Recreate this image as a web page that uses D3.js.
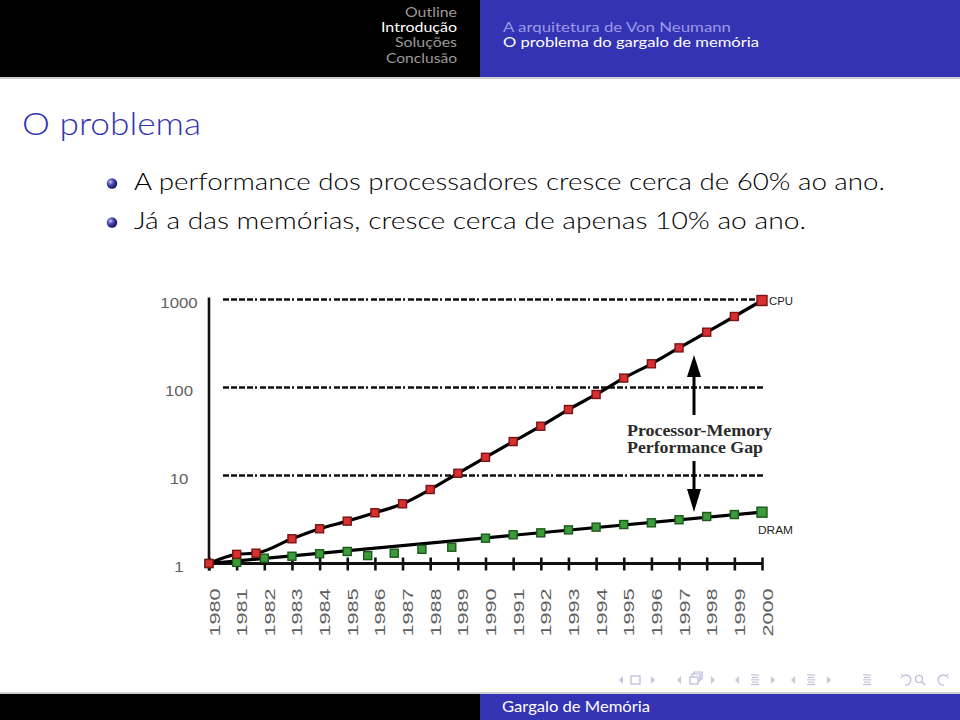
<!DOCTYPE html>
<html>
<head>
<meta charset="utf-8">
<script src="https://cdn.jsdelivr.net/npm/d3@7/dist/d3.min.js"></script>
<style>
  body { margin: 0; background: #fff; }
  svg { display: block; }
</style>
</head>
<body>
<svg id="slide" width="960" height="720"></svg>
<script>
// chart data
var yearLabels = ["1980", "1981", "1982", "1983", "1984", "1985", "1986", "1987", "1988", "1989", "1990",
                  "1991", "1992", "1993", "1994", "1995", "1996", "1997", "1998", "1999", "2000"];
var cpuYears = [1980, 1981, 1981.7, 1983, 1984, 1985, 1986, 1987, 1988, 1989, 1990,
                1991, 1992, 1993, 1994, 1995, 1996, 1997, 1998, 1999, 2000];
var cpuPerf = [1.0, 1.27, 1.31, 1.91, 2.48, 3.03, 3.77, 4.77, 6.93, 10.6, 16.1,
               24.3, 36.3, 56.2, 83.3, 128, 186, 282, 425, 641, 974];
var dramYears = [1980, 1981, 1982, 1983, 1984, 1985, 1985.74, 1986.7, 1987.7, 1988.78, 1990,
                 1991, 1992, 1993, 1994, 1995, 1996, 1997, 1998, 1999, 2000];
var dramPerf = [1.0, 1.03, 1.15, 1.21, 1.29, 1.37, 1.23, 1.31, 1.45, 1.53, 1.94,
                2.12, 2.23, 2.41, 2.59, 2.77, 2.90, 3.14, 3.42, 3.60, 3.83];
var dramTrend = [[1980, 1.0], [2000, 3.83]];
var yTicks = [1, 10, 100, 1000];
var gridValues = [10, 100, 1000];

// slide texts
var navSections = ["Outline", "Introdução", "Soluções", "Conclusão"];
var navSubsections = ["A arquitetura de Von Neumann", "O problema do gargalo de memória"];
var bullets = ["A performance dos processadores cresce cerca de 60% ao ano.",
               "Já a das memórias, cresce cerca de apenas 10% ao ano."];

var blue = "rgb(51,51,179)";
var sans = "Lato, 'Open Sans', sans-serif";
var svg = d3.select("#slide");

// ---------- beamer frame ----------
svg.append("rect").attr("x", 0).attr("y", 0).attr("width", 480).attr("height", 77).attr("fill", "#000");
svg.append("rect").attr("x", 480).attr("y", 0).attr("width", 480).attr("height", 77).attr("fill", blue);
svg.append("rect").attr("x", 0).attr("y", 77).attr("width", 960).attr("height", 2).attr("fill", "#cfcfcf");

var secWidths = [52, 76, 62, 71];
svg.selectAll("text.sec").data(navSections).enter().append("text")
    .attr("class", "sec")
    .attr("x", 457)
    .attr("y", function(d, i) { return 17 + i * 15.2; })
    .attr("text-anchor", "end")
    .attr("textLength", function(d, i) { return secWidths[i]; })
    .attr("lengthAdjust", "spacingAndGlyphs")
    .style("font-family", sans).style("font-size", "14px")
    .attr("fill", function(d, i) { return i === 1 ? "#fff" : "#9a9a9a"; })
    .text(function(d) { return d; });

var subWidths = [228, 256];
svg.selectAll("text.sub").data(navSubsections).enter().append("text")
    .attr("class", "sub")
    .attr("x", 503)
    .attr("y", function(d, i) { return 32.2 + i * 15.2; })
    .attr("textLength", function(d, i) { return subWidths[i]; })
    .attr("lengthAdjust", "spacingAndGlyphs")
    .style("font-family", sans).style("font-size", "14px")
    .attr("fill", function(d, i) { return i === 0 ? "#9a9ae6" : "#fff"; })
    .text(function(d) { return d; });

svg.append("text").attr("x", 22).attr("y", 135)
    .attr("textLength", 179).attr("lengthAdjust", "spacingAndGlyphs")
    .style("font-family", sans).style("font-size", "31px").style("font-weight", 300).attr("fill", blue)
    .text("O problema");

var defs = svg.append("defs");
var grad = defs.append("radialGradient").attr("id", "ball").attr("cx", "35%").attr("cy", "35%").attr("r", "65%");
grad.append("stop").attr("offset", "0%").attr("stop-color", "#c8c8f0");
grad.append("stop").attr("offset", "45%").attr("stop-color", "#4a4ab8");
grad.append("stop").attr("offset", "100%").attr("stop-color", "#15155a");

var bulletWidths = [751, 672];
bullets.forEach(function(b, i) {
    var y = 190 + i * 39;
    svg.append("circle").attr("cx", 112).attr("cy", y - 6.5).attr("r", 5.2).attr("fill", "url(#ball)");
    svg.append("text").attr("x", 134).attr("y", y)
        .attr("textLength", bulletWidths[i]).attr("lengthAdjust", "spacingAndGlyphs")
        .style("font-family", sans).style("font-size", "23px").style("font-weight", 300).attr("fill", "#000")
        .text(b);
});

// footer
svg.append("rect").attr("x", 0).attr("y", 692).attr("width", 960).attr("height", 2).attr("fill", "#cfcfcf");
svg.append("rect").attr("x", 0).attr("y", 694).attr("width", 480).attr("height", 26).attr("fill", "#000");
svg.append("rect").attr("x", 480).attr("y", 694).attr("width", 480).attr("height", 26).attr("fill", blue);
svg.append("text").attr("x", 502).attr("y", 712)
    .attr("textLength", 148).attr("lengthAdjust", "spacingAndGlyphs")
    .style("font-family", sans).style("font-size", "15px").attr("fill", "#fff")
    .text("Gargalo de Memória");

// navigation symbols
var nav = svg.append("g").attr("fill", "none").attr("stroke", "#b8b8d8").attr("stroke-width", 1.2);
function triL(x) { nav.append("path").attr("d", "M" + (x + 2) + ",676 L" + (x - 2) + ",680 L" + (x + 2) + ",684 Z").attr("fill", "#c8c8e0").attr("stroke", "none"); }
function triR(x) { nav.append("path").attr("d", "M" + (x - 2) + ",676 L" + (x + 2) + ",680 L" + (x - 2) + ",684 Z").attr("fill", "#c8c8e0").attr("stroke", "none"); }
function lines(x) {
    [[-4, 4], [-3, 3], [-4, 4], [-3, 3], [-4, 4]].forEach(function(l, k) {
        nav.append("line").attr("x1", x + l[0]).attr("x2", x + l[1]).attr("y1", 675 + k * 2.4).attr("y2", 675 + k * 2.4).attr("stroke-width", 1);
    });
}
triL(621); nav.append("rect").attr("x", 631).attr("y", 676).attr("width", 9).attr("height", 8); triR(653);
triL(679);
nav.append("rect").attr("x", 690).attr("y", 677).attr("width", 8).attr("height", 7);
nav.append("path").attr("d", "M692,677 V674 H700 V681 H698");
nav.append("path").attr("d", "M694,674 V672 H702 V679 H700");
triR(713);
triL(737); lines(755); triR(773);
triL(793); lines(811); triR(829);
lines(867);
nav.append("path").attr("d", "M903,676 A5,5 0 1 1 905,685");
nav.append("path").attr("d", "M901,674 L903,676 L900,678").attr("stroke-width", 1);
nav.append("circle").attr("cx", 919).attr("cy", 679).attr("r", 3.5);
nav.append("line").attr("x1", 922).attr("y1", 682).attr("x2", 925).attr("y2", 685);
nav.append("path").attr("d", "M946,676 A5,5 0 1 0 944,685");
nav.append("path").attr("d", "M948,674 L946,676 L949,678").attr("stroke-width", 1);

// ---------- chart ----------
var x = d3.scaleLinear().domain([1980, 2000]).range([209, 762]);
var y = d3.scaleLog().domain([1, 1000]).range([563.5, 299.5]);
var chart = svg.append("g");

// dash-dot reference lines
chart.selectAll("line.grid").data(gridValues).enter().append("line")
    .attr("class", "grid")
    .attr("x1", x(1980) + 14)
    .attr("x2", function(d) { return d === 1000 ? x(2000) - 5 : x(2000) + 1; })
    .attr("y1", function(d) { return y(d); })
    .attr("y2", function(d) { return y(d); })
    .attr("stroke", "#111").attr("stroke-width", 2.6)
    .attr("stroke-dasharray", "6,2,6,2,6,2,6,2,2,3");

// y axis line and labels
chart.append("line").attr("x1", x(1980)).attr("x2", x(1980)).attr("y1", y(1000) - 2).attr("y2", y(1) + 7)
    .attr("stroke", "#111").attr("stroke-width", 2.6);
chart.selectAll("text.ytick").data(yTicks).enter().append("text")
    .attr("class", "ytick")
    .attr("transform", function(d) { return "translate(179," + (y(d) + 8.5) + ") scale(1.2,1)"; })
    .attr("text-anchor", "middle")
    .style("font-family", "'Liberation Sans', Arial, sans-serif").style("font-size", "14px")
    .attr("fill", "#606060")
    .text(function(d) { return d; });

// x axis built with d3.axisBottom, then restyled like the scan
var xAxis = d3.axisBottom(x)
    .tickValues(yearLabels.map(Number))
    .tickSize(7)
    .tickFormat(function(d, i) { return yearLabels[i]; });
var gx = chart.append("g").attr("transform", "translate(0," + y(1) + ")").call(xAxis);
gx.select(".domain").attr("stroke", "#111").attr("stroke-width", 3).attr("d", "M" + x(1980) + ",0H" + x(2000));
gx.selectAll(".tick line").attr("y1", -6).attr("y2", 7).attr("stroke", "#111").attr("stroke-width", 2.6);
gx.selectAll(".tick text")
    .attr("transform", "translate(10,49) rotate(-90) scale(1.55,1)")
    .attr("x", 0).attr("y", 0).attr("dy", 0)
    .attr("text-anchor", "middle")
    .style("font-family", "'Liberation Sans', Arial, sans-serif").style("font-size", "14px")
    .attr("fill", "#606060");

// trend lines
var cpuPts = cpuYears.map(function(yr, i) { return [yr, cpuPerf[i]]; });
var dramPts = dramYears.map(function(yr, i) { return [yr, dramPerf[i]]; });
var line = d3.line()
    .x(function(d) { return x(d[0]); })
    .y(function(d) { return y(d[1]); });
chart.append("path").attr("d", line.curve(d3.curveMonotoneX)(cpuPts))
    .attr("fill", "none").attr("stroke", "#000").attr("stroke-width", 3.2);
chart.append("path").attr("d", line.curve(d3.curveLinear)(dramTrend))
    .attr("fill", "none").attr("stroke", "#000").attr("stroke-width", 3.2);

// markers
function markers(pts, fill, stroke) {
    chart.append("g").selectAll("rect").data(pts).enter().append("rect")
        .attr("x", function(d, i) { var s = i === pts.length - 1 ? 10 : 8; return x(d[0]) - s / 2; })
        .attr("y", function(d, i) { var s = i === pts.length - 1 ? 10 : 8; return y(d[1]) - s / 2; })
        .attr("width", function(d, i) { return i === pts.length - 1 ? 10 : 8; })
        .attr("height", function(d, i) { return i === pts.length - 1 ? 10 : 8; })
        .attr("fill", fill).attr("stroke", stroke).attr("stroke-width", 1.4);
}
markers(dramPts, "#3c9c3c", "#1b581b");
markers(cpuPts, "#d83030", "#7a1414");

// series labels
chart.append("text").attr("x", x(2000) + 7).attr("y", y(cpuPerf[cpuPerf.length - 1]) + 4)
    .style("font-family", "'Liberation Sans', Arial, sans-serif").style("font-size", "11px")
    .attr("textLength", 24).attr("lengthAdjust", "spacingAndGlyphs")
    .attr("fill", "#222").text("CPU");
chart.append("text").attr("x", x(2000) - 4).attr("y", y(dramPerf[dramPerf.length - 1]) + 22)
    .style("font-family", "'Liberation Sans', Arial, sans-serif").style("font-size", "11px")
    .attr("textLength", 35).attr("lengthAdjust", "spacingAndGlyphs")
    .attr("fill", "#222").text("DRAM");

// processor-memory gap annotation
var ax = 694;
var ann = chart.append("g");
ann.append("line").attr("x1", ax).attr("x2", ax).attr("y1", 415).attr("y2", 372).attr("stroke", "#000").attr("stroke-width", 3);
ann.append("path").attr("d", "M" + ax + ",355 L" + (ax - 7) + ",377 L" + (ax + 7) + ",377 Z").attr("fill", "#000");
ann.append("line").attr("x1", ax).attr("x2", ax).attr("y1", 461).attr("y2", 494).attr("stroke", "#000").attr("stroke-width", 3);
ann.append("path").attr("d", "M" + ax + ",512 L" + (ax - 7) + ",489 L" + (ax + 7) + ",489 Z").attr("fill", "#000");
[["Processor-Memory", 436, 145], ["Performance Gap", 452.5, 136]].forEach(function(t) {
    ann.append("text").attr("x", 627).attr("y", t[1])
        .attr("textLength", t[2]).attr("lengthAdjust", "spacingAndGlyphs")
        .style("font-family", "'Liberation Serif', 'Times New Roman', serif")
        .style("font-size", "16px").style("font-weight", "bold")
        .attr("fill", "#2b2b2b").text(t[0]);
});
</script>
</body>
</html>
